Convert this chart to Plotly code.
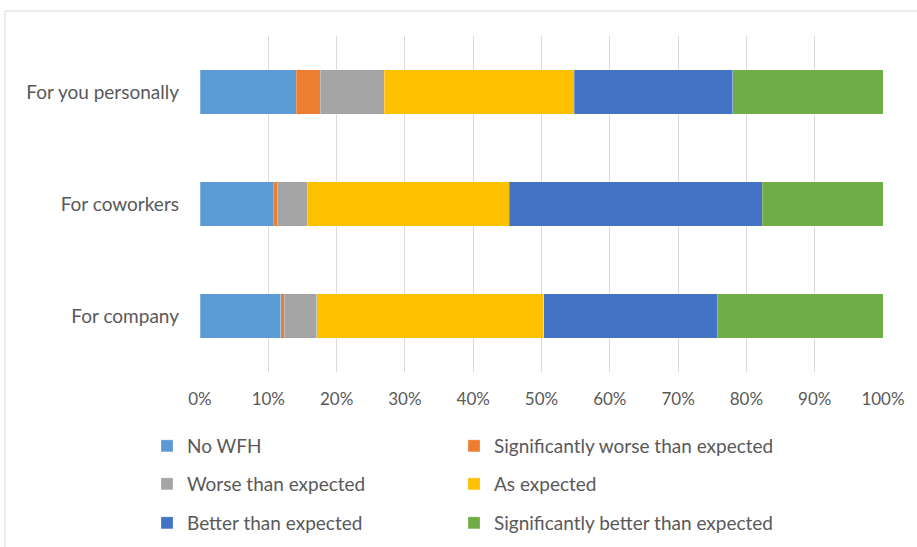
import plotly.graph_objects as go

categories = ["For company", "For coworkers", "For you personally"]
series_names = ["No WFH", "Significantly worse than expected", "Worse than expected",
                "As expected", "Better than expected", "Significantly better than expected"]
no_wfh = [11.8, 10.7, 14.1]
sig_worse = [0.5, 0.6, 3.5]
worse = [4.8, 4.5, 9.4]
as_expected = [33.2, 29.5, 27.8]
better = [25.5, 37.0, 23.2]
sig_better = [24.2, 17.7, 22.0]
values = [no_wfh, sig_worse, worse, as_expected, better, sig_better]
colors = ["#5B9BD5", "#ED7D31", "#A5A5A5", "#FFC000", "#4472C4", "#70AD47"]

FONT = "Lato"
TXT = "#595959"

W, H = 917, 547
# plot area in pixels
PX0, PX1, PY0, PY1 = 200, 883, 36, 372

def fx(p):
    return p / W

def fy(p):
    return 1 - p / H

# legend grid: 2 columns x 3 rows (pixel anchors)
leg_x = [147, 454]
leg_y = [446, 484, 523]

fig = go.Figure()
legends = {}
for i, (name, vals, col) in enumerate(zip(series_names, values, colors)):
    lid = "legend" if i == 0 else f"legend{i + 1}"
    fig.add_trace(go.Bar(
        y=categories, x=vals, name=name, orientation="h",
        marker=dict(color=col, line=dict(color="rgba(255,255,255,0.5)", width=0.5)),
        legend=lid, showlegend=True,
    ))
    legends[lid] = dict(
        x=fx(leg_x[i % 2]), y=fy(leg_y[i // 2]),
        xanchor="left", yanchor="middle",
        font=dict(family=FONT, size=19, color=TXT),
        bgcolor="rgba(0,0,0,0)", visible=True,
    )

fig.update_layout(
    width=W, height=H,
    margin=dict(l=0, r=0, t=0, b=0),
    barmode="stack", bargap=0.6, showlegend=True,
    plot_bgcolor="white", paper_bgcolor="white",
    font=dict(family=FONT, size=19, color=TXT),
    xaxis=dict(domain=[fx(PX0), fx(PX1)], range=[0, 100], tickvals=list(range(0, 101, 10)),
               ticktext=[f"{v}%" for v in range(0, 101, 10)],
               showgrid=True, gridcolor="#D9D9D9", gridwidth=1, zeroline=False,
               showline=False, ticklabelstandoff=15, automargin=False,
               tickfont=dict(family=FONT, size=17, color=TXT), fixedrange=True),
    yaxis=dict(domain=[fy(PY1), fy(PY0)], categoryorder="array", categoryarray=categories,
               showgrid=False, showline=False, ticklabelstandoff=20, automargin=False,
               tickfont=dict(family=FONT, size=19, color=TXT), fixedrange=True),
    shapes=[dict(type="rect", xref="paper", yref="paper",
                 x0=fx(5), x1=fx(930), y0=fy(11), y1=fy(560),
                 line=dict(color="#D9D9D9", width=1), fillcolor="rgba(0,0,0,0)", layer="below")],
    **legends,
)

fig.write_html("out.html")
